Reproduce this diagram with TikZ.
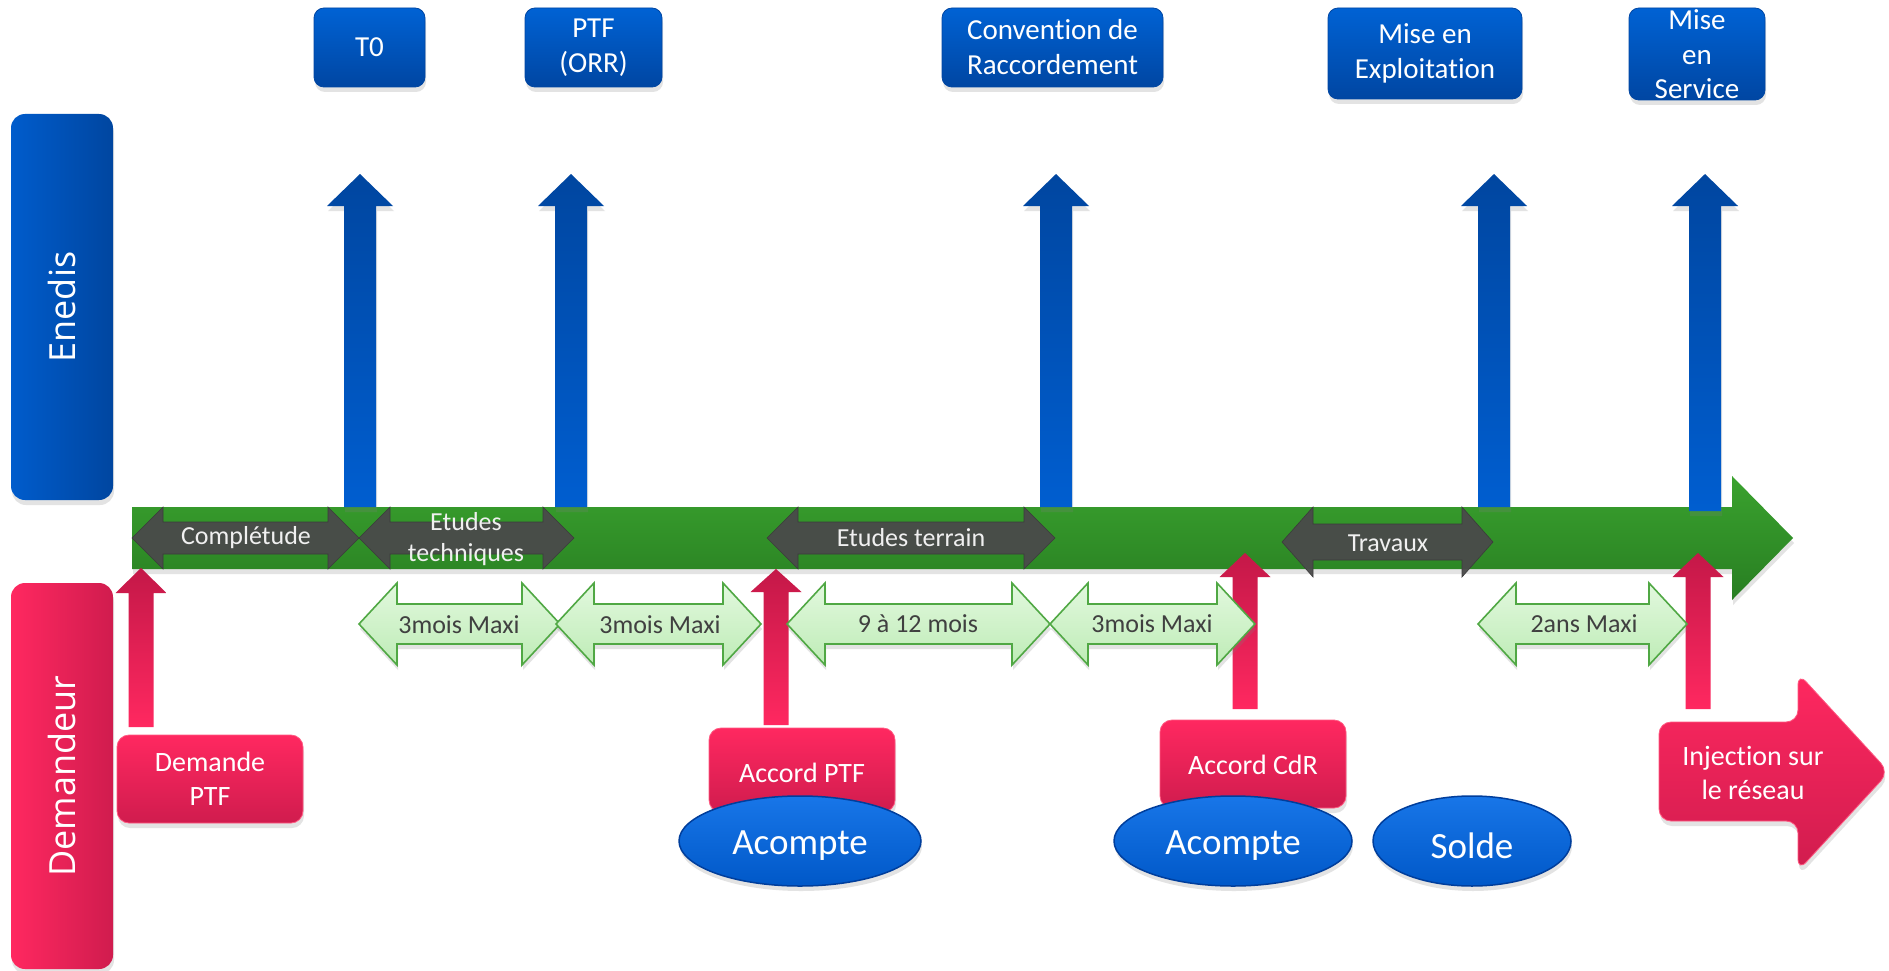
\documentclass[tikz,border=0pt]{standalone}
\usepackage{fontspec}
\setmainfont{Carlito}[Ligatures={NoCommon}]
\newfontfamily\labfont{Open Sans}
\usetikzlibrary{shadows,shapes.geometric}
\definecolor{bluetop}{RGB}{0,98,212}
\definecolor{bluebot}{RGB}{0,70,162}
\definecolor{bluearrtop}{RGB}{0,70,160}
\definecolor{bluearrbot}{RGB}{0,94,208}
\definecolor{sideblueL}{RGB}{0,92,204}
\definecolor{sideblueR}{RGB}{0,70,160}
\definecolor{pinktop}{RGB}{255,40,96}
\definecolor{pinkbot}{RGB}{208,28,78}
\definecolor{pinkdark}{RGB}{196,24,72}
\definecolor{pinkline}{RGB}{255,90,130}
\definecolor{tlgreen}{RGB}{58,162,46}
\definecolor{tlgreendark}{RGB}{40,126,34}
\definecolor{arrgray}{RGB}{74,74,74}
\definecolor{lgtop}{RGB}{226,248,222}
\definecolor{lgbot}{RGB}{190,236,182}
\definecolor{lgline}{RGB}{80,168,68}
\definecolor{lgtext}{RGB}{64,64,64}
\definecolor{elltop}{RGB}{24,118,232}
\definecolor{ellbot}{RGB}{0,88,200}
\definecolor{ellline}{RGB}{0,62,156}
\newcommand\bluearr[2]{%
  \path[bluearrow] ({#1-16},#2) -- ({#1-16},206) -- ({#1-33},206) -- (#1,174)
    -- ({#1+33},206) -- ({#1+16},206) -- ({#1+16},#2) -- cycle;}
\newcommand\pinkarr[4]{%
  \path[pinkarrow] ({#1-12.5},#4) -- ({#1-12.5},#3) -- ({#1-25.5},#3) -- (#1,#2)
    -- ({#1+25.5},#3) -- ({#1+12.5},#3) -- ({#1+12.5},#4) -- cycle;}
\newcommand\dblarr[8]{%
  \path[#1] (#2,{(#4+#5)/2}) -- ({#2+#8},#4) -- ({#2+#8},#6) -- ({#3-#8},#6)
    -- ({#3-#8},#4) -- (#3,{(#4+#5)/2}) -- ({#3-#8},#5) -- ({#3-#8},#7)
    -- ({#2+#8},#7) -- ({#2+#8},#5) -- cycle;}
\begin{document}
\begin{tikzpicture}[x=1pt,y=-1pt,
  shadowed/.style={drop shadow={opacity=0.22,shadow xshift=1pt,shadow yshift=-5pt}},
  topbox/.style={rounded corners=10pt, top color=bluetop, bottom color=bluebot,
    draw=bluebot, line width=0.8pt, text=white, align=center, inner sep=0pt,
    font=\fontsize{29}{35}\selectfont, shadowed},
  boxtext/.style={text=white, align=center, inner sep=0pt, font=\fontsize{29}{34.5}\selectfont},
  sidebox/.style={rounded corners=14pt, inner sep=0pt, minimum width=102pt, minimum height=386pt, shadowed},
  sidelabel/.style={rotate=90, text=white, inner sep=0pt, font=\labfont\fontsize{36}{40}\selectfont},
  bluearrow/.style={top color=bluearrtop, bottom color=bluearrbot, shadowed},
  pinkarrow/.style={top color=pinkdark, bottom color=pinktop},
  greenarrow/.style={top color=tlgreen, middle color=tlgreen, bottom color=tlgreendark, shadowed},
  grayarrow/.style={fill=arrgray, fill opacity=0.95, draw=arrgray!80!black, line width=0.6pt},
  graytext/.style={text=white!94!black, align=center, inner sep=0pt, font=\fontsize{26}{31}\selectfont},
  lgarrow/.style={top color=lgtop, bottom color=lgbot, draw=lgline, line width=1.6pt, shadowed},
  lgtextstyle/.style={text=lgtext, inner sep=0pt, font=\fontsize{26}{31}\selectfont},
  pinkbox/.style={rounded corners=12pt, top color=pinktop, bottom color=pinkbot,
    draw=pinkline, line width=0.8pt, text=white, align=center, inner sep=0pt,
    font=\fontsize{28}{34.5}\selectfont, shadowed},
  pinktext/.style={text=white, align=center, inner sep=0pt, font=\fontsize{28}{34.5}\selectfont},
  ellnode/.style={ellipse, top color=elltop, bottom color=ellbot, draw=ellline, line width=1.5pt,
    inner sep=0pt, shadowed},
  elltext/.style={text=white, inner sep=0pt, font=\fontsize{37}{42}\selectfont}]
\fill[white] (0,0) rectangle (1889,971);
\useasboundingbox (0,0) rectangle (1889,971);

% side bands
\node[sidebox, left color=sideblueL, right color=sideblueR] (enedisbox) at (62,307) {};
\node[sidelabel] (enedis) at (enedisbox.center) {Enedis};
\node[sidebox, left color=pinktop, right color=pinkbot] (demboxside) at (62,776) {};
\node[sidelabel] (demandeur) at (demboxside.center) {Demandeur};

% top milestones
\node[topbox, minimum width=111pt, minimum height=79pt] (t0) at (369.5,47.5) {T0};
\node[topbox, minimum width=137pt, minimum height=79pt] (ptf) at (593.5,47.5) {PTF\\(ORR)};
\node[topbox, minimum width=221pt, minimum height=79pt] (conv) at (1052.5,47.5) {Convention de\\Raccordement};
\node[topbox, minimum width=194pt, minimum height=91pt] (mexp) at (1425,53.5) {Mise en\\Exploitation};
\node[topbox, minimum width=136pt, minimum height=92pt] (mserv) at (1697,54) {};
\node[boxtext] (mservtxt) at (1697,54.5) {Mise\\en\\Service};

% timeline
\path[greenarrow] (132,507) -- (1732,507) -- (1732,476) -- (1793,538) -- (1732,600)
  -- (1732,569) -- (132,569) -- cycle;

% blue arrows
\bluearr{360}{507}
\bluearr{571}{507}
\bluearr{1056}{507}
\bluearr{1494}{507}
\bluearr{1705}{511}

% gray phases
\dblarr{grayarrow}{132}{359}{507}{569}{522}{554}{31}
\dblarr{grayarrow}{359}{574}{507}{569}{522}{554}{31}
\dblarr{grayarrow}{767}{1055}{507}{569}{522}{554}{31}
\dblarr{grayarrow}{1282}{1493}{507}{577}{524}{560}{31}
\node[graytext] (compl) at (246,538) {Complétude};
\node[graytext] (etech) at (466,539.5) {Etudes\\techniques};
\node[graytext] (eterr) at (911,538) {Etudes terrain};
\node[graytext] (trav) at (1388,543) {Travaux};

% pink arrows
\pinkarr{141}{568}{593}{727}
\pinkarr{776}{569}{592}{725}
\pinkarr{1245}{553}{577}{709}
\pinkarr{1698}{553}{577}{709}

% light green durations
\dblarr{lgarrow}{359}{560}{583}{665}{604}{644}{38}
\dblarr{lgarrow}{556}{761}{583}{665}{604}{644}{38}
\dblarr{lgarrow}{787}{1050}{583}{665}{604}{644}{38}
\dblarr{lgarrow}{1050}{1255}{583}{665}{604}{644}{38}
\dblarr{lgarrow}{1478}{1687}{583}{665}{604}{644}{38}
\node[lgtextstyle] (d1) at (459,625) {3mois Maxi};
\node[lgtextstyle] (d2) at (660,625) {3mois Maxi};
\node[lgtextstyle] (d3) at (918,624) {9 à 12 mois};
\node[lgtextstyle] (d4) at (1152,624) {3mois Maxi};
\node[lgtextstyle] (d5) at (1584,624) {2ans Maxi};

% demandeur boxes
\node[pinkbox, minimum width=186pt, minimum height=88pt] (dptf) at (210,779) {Demande\\PTF};
\node[pinkbox, minimum width=186pt, minimum height=84pt] (aptfbox) at (802,770) {};
\node[pinktext] (aptf) at (802,773) {Accord PTF};
\node[pinkbox, minimum width=186pt, minimum height=88pt] (acdrbox) at (1253,764) {};
\node[pinktext] (acdr) at (1253,765) {Accord CdR};
\path[pinkbox] (1659,722) -- (1798,722) -- (1798,673) -- (1889,772) -- (1798,871)
  -- (1798,821) -- (1659,821) -- cycle;
\node[pinktext] (inj) at (1753,773) {Injection sur\\le réseau};

% payments
\node[ellnode, minimum width=242pt, minimum height=90pt] (acompte1) at (800,841) {};
\node[elltext] (acompte1txt) at (800,846) {Acompte};
\node[ellnode, minimum width=238pt, minimum height=90pt] (acompte2) at (1233,841) {};
\node[elltext] (acompte2txt) at (1233,846) {Acompte};
\node[ellnode, minimum width=198pt, minimum height=90pt] (solde) at (1472,841) {};
\node[elltext] (soldetxt) at (1472,846) {Solde};
\end{tikzpicture}
\end{document}
